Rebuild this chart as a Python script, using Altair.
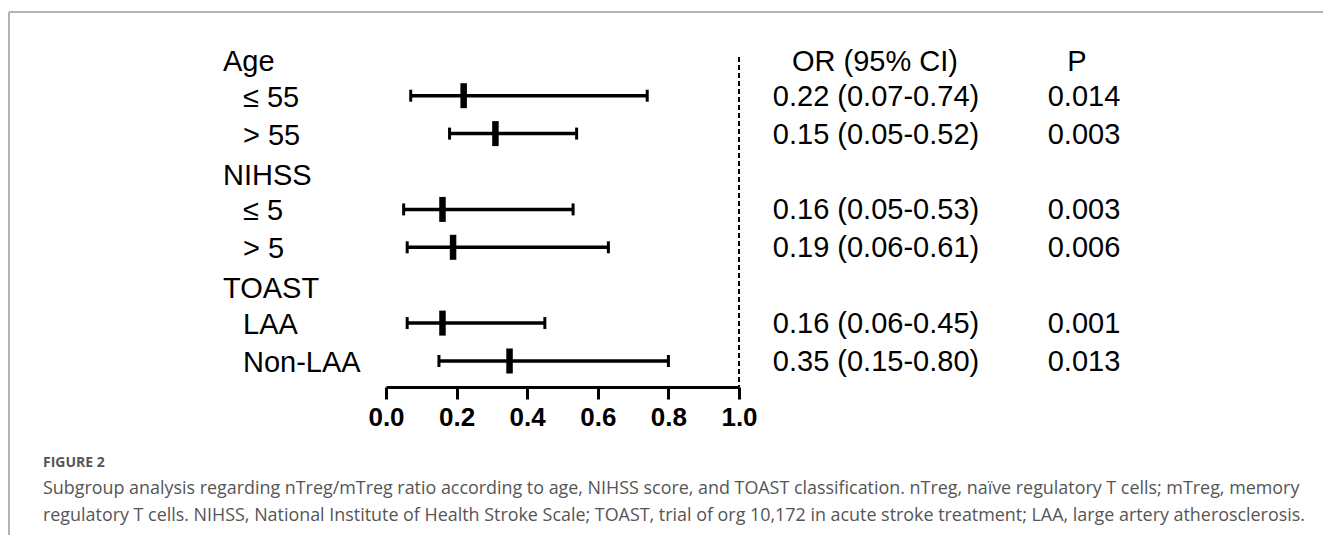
import altair as alt
import pandas as pd

# ---- data ----
group_labels = ["Age", "NIHSS", "TOAST"]
group_rows = [0, 3, 6]

sub_labels = ["≤ 55", "> 55", "≤ 5", "> 5", "LAA", "Non-LAA"]
sub_rows = [1, 2, 4, 5, 7, 8]
or_plot = [0.22, 0.31, 0.16, 0.19, 0.16, 0.35]
lo_plot = [0.07, 0.18, 0.05, 0.06, 0.06, 0.15]
hi_plot = [0.74, 0.54, 0.53, 0.63, 0.45, 0.80]
or_text = ["0.22 (0.07-0.74)", "0.15 (0.05-0.52)", "0.16 (0.05-0.53)",
           "0.19 (0.06-0.61)", "0.16 (0.06-0.45)", "0.35 (0.15-0.80)"]
p_text = ["0.014", "0.003", "0.003", "0.006", "0.001", "0.013"]

tick_values = [0.0, 0.2, 0.4, 0.6, 0.8, 1.0]
ref_value = [1.0]

header_or = "OR (95% CI)"
header_p = "P"
fig_label = "FIGURE 2"
caption_lines = [
    "Subgroup analysis regarding nTreg/mTreg ratio according to age, NIHSS score, and TOAST classification. nTreg, naïve regulatory T cells; mTreg, memory",
    "regulatory T cells. NIHSS, National Institute of Health Stroke Scale; TOAST, trial of org 10,172 in acute stroke treatment; LAA, large artery atherosclerosis.",
]

# ---- tables ----
subs = pd.DataFrame({"label": sub_labels, "row": sub_rows, "or": or_plot,
                     "lo": lo_plot, "hi": hi_plot, "ortxt": or_text, "ptxt": p_text})
groups = pd.DataFrame({"label": group_labels, "row": group_rows})
headers = pd.DataFrame({"row": [0]})
caps = pd.DataFrame({"line": caption_lines, "n": [0, 1]})
refdf = pd.DataFrame({"x": ref_value})

W, H = 1315, 379
FONT = "Liberation Sans"

xscale = alt.Scale(domain=[0, 1], range=[378, 731], nice=False, zero=False)
yscale = alt.Scale(domain=[0, 8], range=[49.8, 353], nice=False, zero=False)
xaxis = alt.Axis(values=tick_values, format=".1f", title=None, grid=False,
                 domainWidth=3, domainColor="black", tickWidth=3, tickColor="black",
                 tickSize=12, labelFont=FONT, labelFontWeight="bold", labelFontSize=26,
                 labelColor="black", labelPadding=5, labelFlush=False)
Y = alt.Y("row:Q", scale=yscale, axis=None)

base = alt.Chart(subs)

ci = base.mark_rule(color="black", strokeWidth=3.5).encode(
    x=alt.X("lo:Q", scale=xscale, axis=xaxis), x2="hi:Q", y=Y)
cap_lo = base.mark_rule(color="black", strokeWidth=3, yOffset=-6, y2Offset=6).encode(
    x=alt.X("lo:Q", scale=xscale, axis=xaxis), y=Y, y2="row:Q")
cap_hi = base.mark_rule(color="black", strokeWidth=3, yOffset=-6, y2Offset=6).encode(
    x=alt.X("hi:Q", scale=xscale, axis=xaxis), y=Y, y2="row:Q")
pt = base.mark_rule(color="black", strokeWidth=6.5, yOffset=-12.5, y2Offset=12.5).encode(
    x=alt.X("or:Q", scale=xscale, axis=xaxis), y=Y, y2="row:Q")

ref = alt.Chart(refdf).mark_rule(color="black", strokeWidth=2, strokeDash=[5, 3]).encode(
    x=alt.X("x:Q", scale=xscale, axis=xaxis), y=alt.value(49), y2=alt.value(379))

grp_txt = alt.Chart(groups).mark_text(align="left", baseline="middle", font=FONT,
                                      fontSize=29, color="black", dy=4).encode(
    x=alt.value(215), y=Y, text="label:N")
sub_txt = base.mark_text(align="left", baseline="middle", font=FONT,
                         fontSize=29, color="black", dy=2).encode(
    x=alt.value(235), y=Y, text="label:N")
or_txt = base.mark_text(align="center", baseline="middle", font=FONT,
                        fontSize=29, color="black", dy=1).encode(
    x=alt.value(868), y=Y, text="ortxt:N")
p_txt = base.mark_text(align="center", baseline="middle", font=FONT,
                       fontSize=29, color="black", dy=1).encode(
    x=alt.value(1076), y=Y, text="ptxt:N")
h_or = alt.Chart(headers).mark_text(align="center", baseline="middle", font=FONT,
                                    fontSize=29, color="black", dy=4, text=header_or).encode(
    x=alt.value(867), y=Y)
h_p = alt.Chart(headers).mark_text(align="center", baseline="middle", font=FONT,
                                   fontSize=29, color="black", dy=4, text=header_p).encode(
    x=alt.value(1069), y=Y)

# frame lines (grey border of the figure panel)
top_line = alt.Chart(headers).mark_rule(color="#b3b3b3", strokeWidth=2).encode(
    x=alt.value(1), x2=alt.value(W), y=alt.value(4))
left_line = alt.Chart(headers).mark_rule(color="#b3b3b3", strokeWidth=2).encode(
    x=alt.value(1), y=alt.value(4), y2=alt.value(H + 148))

fig_txt = alt.Chart(headers).mark_text(align="left", baseline="middle", font="Open Sans",
                                       fontSize=14, fontWeight="bold", color="#555555",
                                       text=fig_label).encode(
    x=alt.value(35), y=alt.value(455))
cap_txt = alt.Chart(caps).mark_text(align="left", baseline="middle", font="Open Sans",
                                    fontSize=17.9, color="#555555").encode(
    x=alt.value(35),
    y=alt.Y("n:Q", scale=alt.Scale(domain=[0, 1], range=[481, 508]), axis=None),
    text="line:N")

chart = alt.layer(top_line, left_line, ref, ci, cap_lo, cap_hi, pt,
                  grp_txt, sub_txt, or_txt, p_txt, h_or, h_p,
                  fig_txt, cap_txt).resolve_scale(y="independent").properties(
    width=W, height=H,
    autosize=alt.AutoSizeParams(type="none"),
    padding={"left": 0, "right": 0, "top": 0, "bottom": 148},
).configure_view(stroke=None).configure_axisY(disable=True)

chart.save("out.html", embed_options={"renderer": "svg", "actions": False})
